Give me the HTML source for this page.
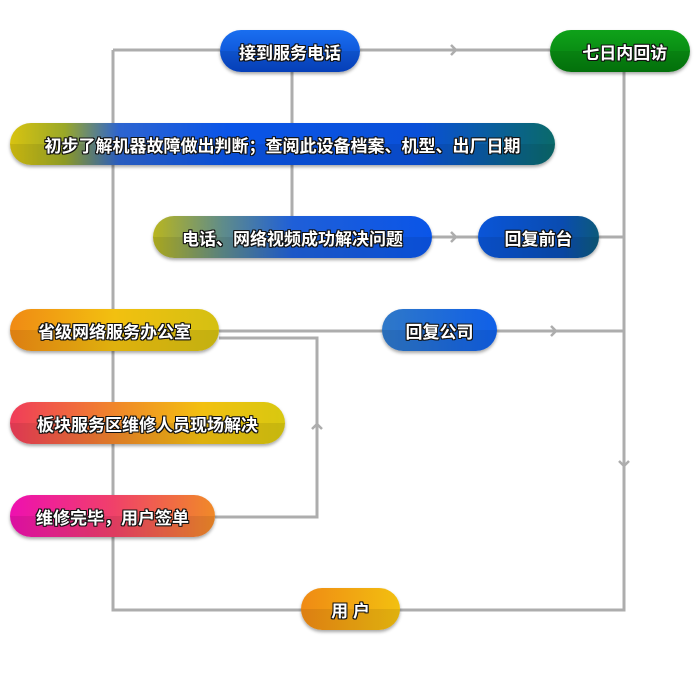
<!DOCTYPE html>
<html><head><meta charset="utf-8"><style>
body{margin:0;width:700px;height:700px;background:#fff;position:relative;overflow:hidden;font-family:"Liberation Sans","Noto Sans CJK SC",sans-serif}
.n{position:absolute;height:42px;border-radius:21px;box-sizing:border-box;display:flex;align-items:center;justify-content:center;color:#fff;font-size:17px;font-weight:bold;
text-shadow:-1px -1px 0 #111,1px -1px 0 #111,-1px 1px 0 #111,1px 1px 0 #111,0 1px 0 #111,0 -1px 0 #111,1px 0 0 #111,-1px 0 0 #111;
box-shadow:0 2px 3px rgba(0,0,0,.35);overflow:hidden}
.n:after{content:"";position:absolute;left:0;right:0;top:50%;height:50%;background:rgba(0,0,0,.08)}
.n span{position:relative;z-index:1}
svg{position:absolute;left:0;top:0}
</style></head><body>
<svg width="700" height="700" fill="none" stroke="#adadad" stroke-width="3">
<path d="M113 50V610H624V72M113 50H220M360 50H550M292 72V216M432 237H478M599 237H624M219 331H624M219 338H317V517H215"/>
<path d="M451 45l5 5-5 5M451 232l5 5-5 5M551 326l5 5-5 5M312 429l5-5 5 5M619 461l5 5 5-5" stroke-width="2.5"/>
</svg>
<div class="n" style="left:220px;top:30px;width:140px;background:linear-gradient(#1a6ff0,#0645c8)"><span>接到服务电话</span></div>
<div class="n" style="left:550px;top:30px;width:140px;background:linear-gradient(#0fa21a,#047a0d)"><span>&nbsp;&nbsp;七日内回访</span></div>
<div class="n" style="left:10px;top:123px;width:545px;background:linear-gradient(90deg,#d8c310 0%,#9aa828 10%,#2d64d0 20%,#0a55e8 40%,#0a50d8 75%,#0a6a6a 100%)"><span>初步了解机器故障做出判断；查阅此设备档案、机型、出厂日期</span></div>
<div class="n" style="left:153px;top:216px;width:279px;background:linear-gradient(90deg,#b8b520 0%,#5f8c8a 25%,#1f5fd8 50%,#0a55e8 100%)"><span>电话、网络视频成功解决问题</span></div>
<div class="n" style="left:478px;top:216px;width:121px;background:linear-gradient(90deg,#0a55d8,#0a4cb0 70%,#0d5a7a)"><span>回复前台</span></div>
<div class="n" style="left:10px;top:309px;width:209px;background:linear-gradient(90deg,#f08a14,#f2c010 50%,#d4c012)"><span>省级网络服务办公室</span></div>
<div class="n" style="left:382px;top:309px;width:115px;background:linear-gradient(90deg,#2f78c8,#1060e8)"><span>回复公司</span></div>
<div class="n" style="left:10px;top:402px;width:275px;background:linear-gradient(90deg,#f03c5a,#f08a28 40%,#f2c010 70%,#d8c810)"><span>板块服务区维修人员现场解决</span></div>
<div class="n" style="left:10px;top:495px;width:205px;background:linear-gradient(90deg,#ee10b0,#f0406a 50%,#f08a28)"><span>维修完毕，用户签单</span></div>
<div class="n" style="left:301px;top:588px;width:99px;background:linear-gradient(90deg,#f08a14,#f2c010)"><span>用 户</span></div>
</body></html>
